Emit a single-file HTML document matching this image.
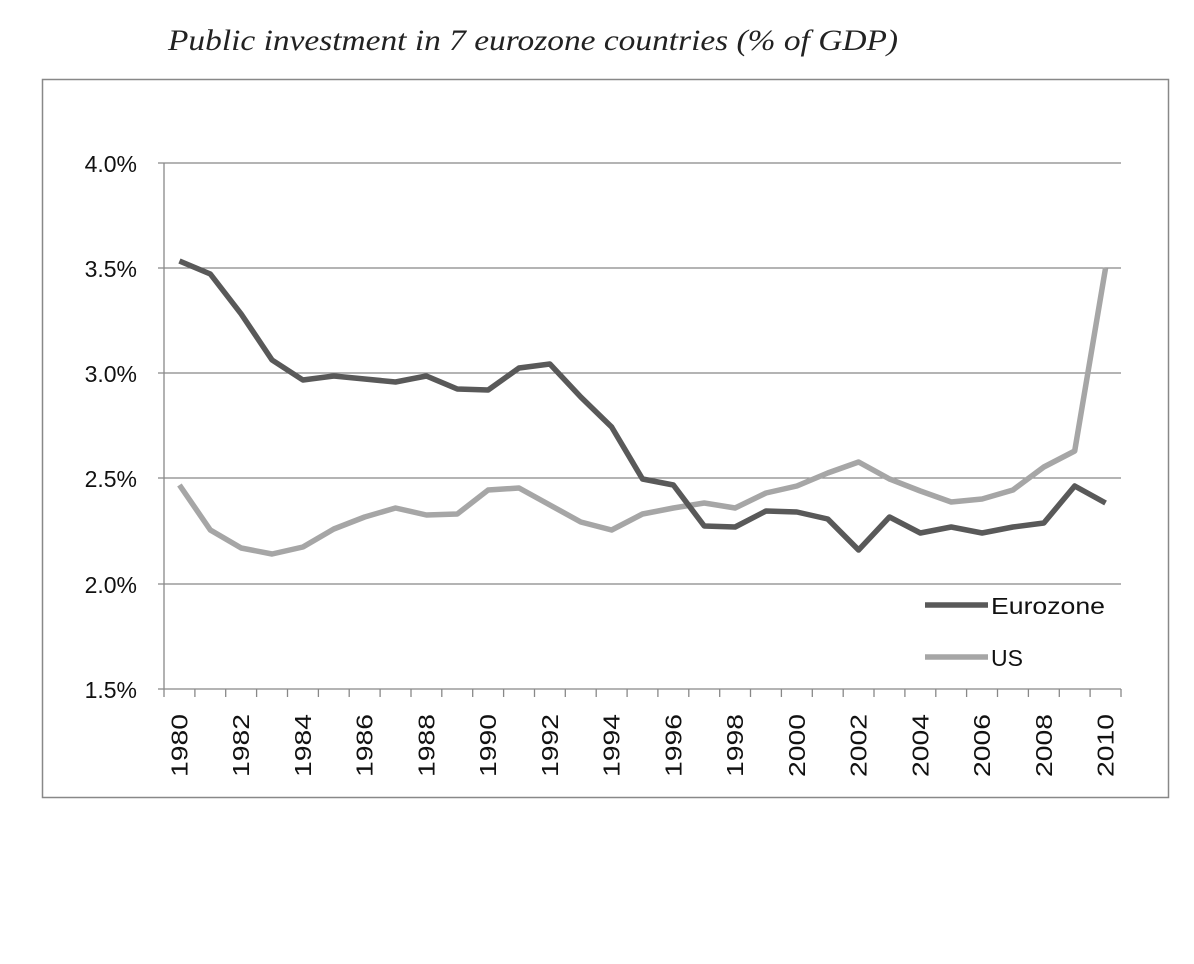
<!DOCTYPE html>
<html><head><meta charset="utf-8"><style>
body{margin:0;background:#fff;}
svg{display:block;}
</style></head><body>
<svg width="1194" height="964" xmlns="http://www.w3.org/2000/svg">
<rect width="1194" height="964" fill="#fff"/>
<text x="168" y="50" font-family="Liberation Serif, serif" font-style="italic" font-size="30" fill="#222" textLength="730" lengthAdjust="spacingAndGlyphs">Public investment in 7 eurozone countries (% of GDP)</text>
<rect x="42.5" y="79.5" width="1126" height="718" fill="none" stroke="#888" stroke-width="1.5"/>
<g stroke="#888" stroke-width="1.3">
<line x1="158" y1="163" x2="1121" y2="163"/>
<line x1="158" y1="268" x2="1121" y2="268"/>
<line x1="158" y1="373" x2="1121" y2="373"/>
<line x1="158" y1="478" x2="1121" y2="478"/>
<line x1="158" y1="584" x2="1121" y2="584"/>
<line x1="158" y1="689" x2="1121" y2="689"/>
<line x1="164" y1="163" x2="164" y2="689"/>
</g>
<path stroke="#888" stroke-width="1.3" d="M164 689v8M194.9 689v8M225.7 689v8M256.6 689v8M287.5 689v8M318.4 689v8M349.2 689v8M380.1 689v8M411 689v8M441.8 689v8M472.7 689v8M503.6 689v8M534.5 689v8M565.3 689v8M596.2 689v8M627.1 689v8M657.9 689v8M688.8 689v8M719.7 689v8M750.5 689v8M781.4 689v8M812.3 689v8M843.2 689v8M874 689v8M904.9 689v8M935.8 689v8M966.6 689v8M997.5 689v8M1028.4 689v8M1059.3 689v8M1090.1 689v8M1121 689v8"/>
<g font-family="Liberation Sans, sans-serif" font-size="23" fill="#111" text-anchor="end">
<text x="137" y="172">4.0%</text>
<text x="137" y="277">3.5%</text>
<text x="137" y="382">3.0%</text>
<text x="137" y="487">2.5%</text>
<text x="137" y="593">2.0%</text>
<text x="137" y="698">1.5%</text>
</g>
<g font-family="Liberation Sans, sans-serif" font-size="23" fill="#111" text-anchor="end">
<text transform="translate(187.4,714) rotate(-90)" textLength="63" lengthAdjust="spacingAndGlyphs">1980</text>
<text transform="translate(249.2,714) rotate(-90)" textLength="63" lengthAdjust="spacingAndGlyphs">1982</text>
<text transform="translate(310.9,714) rotate(-90)" textLength="63" lengthAdjust="spacingAndGlyphs">1984</text>
<text transform="translate(372.7,714) rotate(-90)" textLength="63" lengthAdjust="spacingAndGlyphs">1986</text>
<text transform="translate(434.4,714) rotate(-90)" textLength="63" lengthAdjust="spacingAndGlyphs">1988</text>
<text transform="translate(496.1,714) rotate(-90)" textLength="63" lengthAdjust="spacingAndGlyphs">1990</text>
<text transform="translate(557.9,714) rotate(-90)" textLength="63" lengthAdjust="spacingAndGlyphs">1992</text>
<text transform="translate(619.6,714) rotate(-90)" textLength="63" lengthAdjust="spacingAndGlyphs">1994</text>
<text transform="translate(681.4,714) rotate(-90)" textLength="63" lengthAdjust="spacingAndGlyphs">1996</text>
<text transform="translate(743.1,714) rotate(-90)" textLength="63" lengthAdjust="spacingAndGlyphs">1998</text>
<text transform="translate(804.9,714) rotate(-90)" textLength="63" lengthAdjust="spacingAndGlyphs">2000</text>
<text transform="translate(866.6,714) rotate(-90)" textLength="63" lengthAdjust="spacingAndGlyphs">2002</text>
<text transform="translate(928.3,714) rotate(-90)" textLength="63" lengthAdjust="spacingAndGlyphs">2004</text>
<text transform="translate(990.1,714) rotate(-90)" textLength="63" lengthAdjust="spacingAndGlyphs">2006</text>
<text transform="translate(1051.8,714) rotate(-90)" textLength="63" lengthAdjust="spacingAndGlyphs">2008</text>
<text transform="translate(1113.6,714) rotate(-90)" textLength="63" lengthAdjust="spacingAndGlyphs">2010</text>
</g>
<polyline id="us" fill="none" stroke="#a6a6a6" stroke-width="5.5" stroke-linejoin="round"/>
<polyline id="ez" fill="none" stroke="#595959" stroke-width="5.5" stroke-linejoin="round"/>
<line x1="925" y1="605" x2="988" y2="605" stroke="#595959" stroke-width="5.5"/>
<text x="991" y="614" font-family="Liberation Sans, sans-serif" font-size="23" fill="#111" textLength="114" lengthAdjust="spacingAndGlyphs">Eurozone</text>
<line x1="925" y1="657" x2="988" y2="657" stroke="#a6a6a6" stroke-width="5.5"/>
<text x="991" y="666" font-family="Liberation Sans, sans-serif" font-size="23" fill="#111">US</text>
<script>
var ez=[261,274,314,360,380,376,379,382,376,389,390,368,364,397,427,479,485,526,527,511,512,519,550,517,533,527,533,527,523,486,503];
var us=[485,530,548,554,547,529,517,508,515,514,490,488,505,522,530,514,508,503,508,493,486,473,462,479,491,502,499,490,467,451,268];
var w=(1121-164)/31;function X(i){return 164+w/2+i*w;}
document.getElementById('ez').setAttribute('points',ez.map(function(y,i){return X(i)+','+y}).join(' '));
document.getElementById('us').setAttribute('points',us.map(function(y,i){return X(i)+','+y}).join(' '));
</script>
</svg>
</body></html>
